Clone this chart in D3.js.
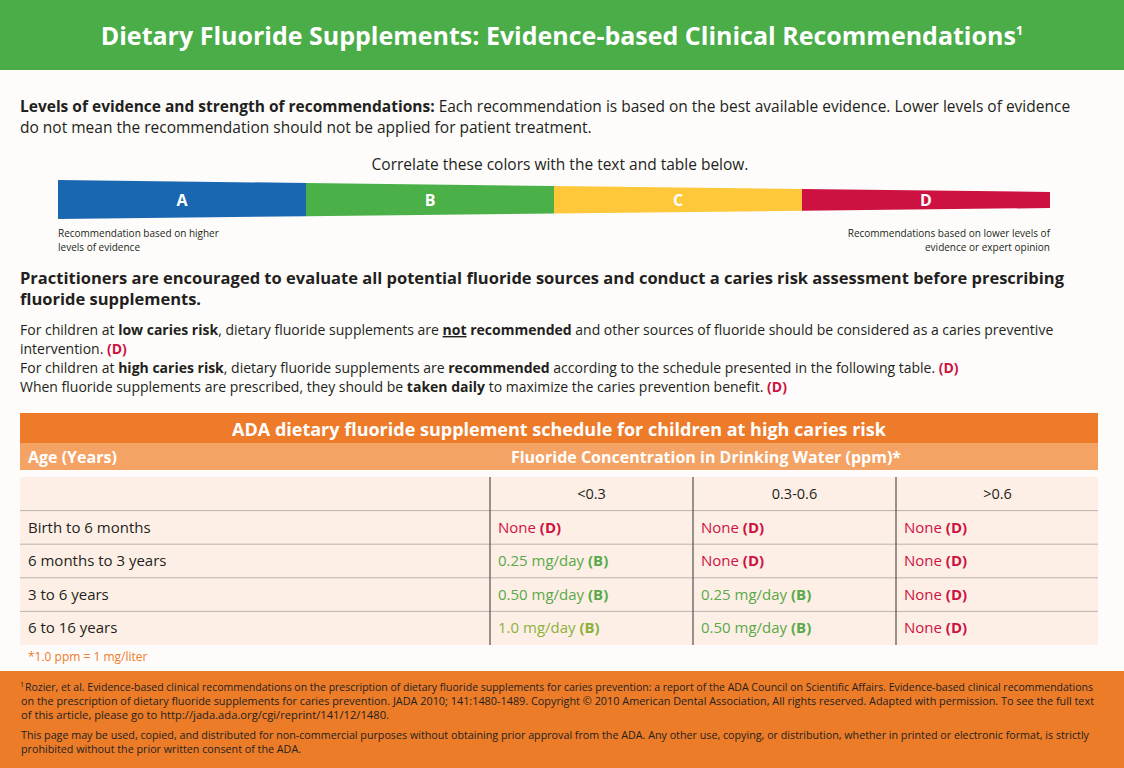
<!DOCTYPE html>
<html><head><meta charset="utf-8">
<script src="https://cdn.jsdelivr.net/npm/d3@7"></script>
<style>
body{margin:0;background:#fdfcfa;}
svg{font-family:"Open Sans",sans-serif;display:block;}
</style></head>
<body><svg width="1124" height="768"></svg>
<script>
const grades = ["A", "B", "C", "D"];
const gradeColors = ["#1a67b1", "#4bb047", "#fec83a", "#cd1141"];
const ages = ["Birth to 6 months", "6 months to 3 years", "3 to 6 years", "6 to 16 years"];
const concentrations = ["<0.3", "0.3-0.6", ">0.6"];
const doses = [
  ["None", "None", "None"],
  ["0.25 mg/day", "None", "None"],
  ["0.50 mg/day", "0.25 mg/day", "None"],
  ["1.0 mg/day", "0.50 mg/day", "None"]
];
const doseGrades = [
  ["D", "D", "D"],
  ["B", "D", "D"],
  ["B", "B", "D"],
  ["B", "B", "D"]
];

const svg = d3.select("svg");
const dark = "#231f20", red = "#cd1141", green = "#5aa94a", orange = "#ee7b2a";

// Header band
svg.append("rect").attr("width", 1124).attr("height", 70).attr("fill", "#4aad48");
const ht = svg.append("text").attr("x", 562).attr("y", 45).attr("text-anchor", "middle")
  .attr("fill", "#fff").style("font-size", "25px").style("font-weight", "bold");
ht.append("tspan").text("Dietary Fluoride Supplements: Evidence-based Clinical Recommendations");
ht.append("tspan").attr("dy", -10).style("font-size", "13px").text("1");

// Rich text helper: parts = [[text, style]]
function rich(x, y, parts, size) {
  const t = svg.append("text").attr("x", x).attr("y", y).attr("fill", dark).style("font-size", size + "px");
  parts.forEach(([s, st]) => {
    const sp = t.append("tspan").text(s);
    if (st && st.includes("b")) sp.style("font-weight", "bold");
    if (st && st.includes("u")) sp.style("text-decoration", "underline");
    if (st && st.includes("r")) sp.attr("fill", red).style("font-weight", "bold");
  });
  return t;
}

rich(20, 112, [["Levels of evidence and strength of recommendations: ", "b"], ["Each recommendation is based on the best available evidence. Lower levels of evidence"]], 15.5);
rich(20, 133, [["do not mean the recommendation should not be applied for patient treatment."]], 15.5);
svg.append("text").attr("x", 560).attr("y", 170).attr("text-anchor", "middle").attr("fill", dark)
  .style("font-size", "15.5px").text("Correlate these colors with the text and table below.");

// Tapered evidence bar
const bx = d3.scaleBand().domain(grades).range([58, 1050]);
const topY = d3.scaleLinear().domain([58, 1050]).range([180, 192]);
const botY = d3.scaleLinear().domain([58, 1050]).range([219, 208]);
grades.forEach((g, i) => {
  const x0 = bx(g), x1 = x0 + bx.bandwidth();
  svg.append("path")
    .attr("d", `M${x0},${topY(x0)}L${x1},${topY(x1)}L${x1},${botY(x1)}L${x0},${botY(x0)}Z`)
    .attr("fill", gradeColors[i]);
  const xm = x0 + bx.bandwidth() / 2;
  svg.append("text").attr("x", xm).attr("y", (topY(xm) + botY(xm)) / 2 + 6).attr("text-anchor", "middle")
    .attr("fill", "#fff").style("font-size", "16px").style("font-weight", "bold").text(g);
});
svg.append("text").attr("x", 58).attr("y", 237).attr("fill", dark).style("font-size", "10px").text("Recommendation based on higher");
svg.append("text").attr("x", 58).attr("y", 251).attr("fill", dark).style("font-size", "10px").text("levels of evidence");
svg.append("text").attr("x", 1050).attr("y", 237).attr("text-anchor", "end").attr("fill", dark).style("font-size", "10px").text("Recommendations  based on lower levels of");
svg.append("text").attr("x", 1050).attr("y", 251).attr("text-anchor", "end").attr("fill", dark).style("font-size", "10px").text("evidence or expert opinion");

rich(20, 284, [["Practitioners are encouraged to evaluate all potential fluoride sources and conduct a caries risk assessment before prescribing", "b"]], 16.5);
rich(20, 305, [["fluoride supplements.", "b"]], 16.5);
rich(20, 335, [["For children at "], ["low caries risk", "b"], [", dietary fluoride supplements are "], ["not", "bu"], [" recommended", "b"], [" and other sources of fluoride should be considered as a caries preventive"]], 14);
rich(20, 354, [["intervention. "], ["(D)", "r"]], 14);
rich(20, 373, [["For children at "], ["high caries risk", "b"], [", dietary fluoride supplements are "], ["recommended", "b"], [" according to the schedule presented in the following table. "], ["(D)", "r"]], 14);
rich(20, 392, [["When fluoride supplements are prescribed, they should be "], ["taken daily", "b"], [" to maximize the caries prevention benefit. "], ["(D)", "r"]], 14);

// Table
const tx0 = 20, tx1 = 1098;
svg.append("rect").attr("x", tx0).attr("y", 413).attr("width", tx1 - tx0).attr("height", 30).attr("fill", orange);
svg.append("text").attr("x", 559).attr("y", 436).attr("text-anchor", "middle").attr("fill", "#fff")
  .style("font-size", "18px").style("font-weight", "bold").text("ADA dietary fluoride supplement schedule for children at high caries risk");
svg.append("rect").attr("x", tx0).attr("y", 443).attr("width", tx1 - tx0).attr("height", 27).attr("fill", "#f4a364");
svg.append("text").attr("x", 28).attr("y", 463).attr("fill", "#fff").style("font-size", "16px").style("font-weight", "bold").text("Age (Years)");
svg.append("text").attr("x", 706).attr("y", 463).attr("text-anchor", "middle").attr("fill", "#fff").style("font-size", "16px").style("font-weight", "bold").text("Fluoride Concentration in Drinking Water (ppm)*");

const cx = d3.scaleBand().domain(concentrations).range([490, 1099]);
const ry = d3.scaleBand().domain(["head"].concat(ages)).range([477, 645]);
svg.append("rect").attr("x", tx0).attr("y", 477).attr("width", tx1 - tx0).attr("height", 168).attr("fill", "#fdefe6");
ry.domain().slice(1).forEach(a => {
  svg.append("line").attr("x1", tx0).attr("x2", tx1).attr("y1", ry(a)).attr("y2", ry(a)).attr("stroke", "#b9b3ae").attr("stroke-width", 1);
});
concentrations.forEach(c => {
  svg.append("line").attr("x1", cx(c)).attr("x2", cx(c)).attr("y1", 477).attr("y2", 645).attr("stroke", "#55504d").attr("stroke-width", 1.2);
  svg.append("text").attr("x", cx(c) + cx.bandwidth() / 2).attr("y", ry("head") + 22).attr("text-anchor", "middle")
    .attr("fill", dark).style("font-size", "14.5px").text(c);
});
ages.forEach((a, i) => {
  const y = ry(a) + 22;
  svg.append("text").attr("x", 28).attr("y", y).attr("fill", dark).style("font-size", "15px").text(a);
  concentrations.forEach((c, j) => {
    const isNone = doses[i][j] === "None";
    const t = svg.append("text").attr("x", cx(c) + 8).attr("y", y).style("font-size", "15px")
      .attr("fill", isNone ? red : (j === 0 && i === 3 ? "#8cb23c" : green));
    t.append("tspan").text(doses[i][j] + " ");
    t.append("tspan").style("font-weight", "bold").text("(" + doseGrades[i][j] + ")");
  });
});
svg.append("text").attr("x", 28).attr("y", 661).attr("fill", orange).style("font-size", "12px").text("*1.0 ppm = 1 mg/liter");

// Footer
svg.append("rect").attr("y", 671).attr("width", 1124).attr("height", 97).attr("fill", "#ed7c28");
const foot = [
  ["Rozier, et al. Evidence-based clinical recommendations on the prescription of dietary fluoride supplements for caries prevention:  a report of the ADA Council on Scientific Affairs. Evidence-based clinical recommendations", 691, 1072],
  ["on the prescription of dietary fluoride supplements for caries prevention. JADA 2010; 141:1480-1489. Copyright © 2010 American Dental Association, All rights reserved. Adapted with permission. To see the full text", 705, 1073],
  ["of this article, please go to http://jada.ada.org/cgi/reprint/141/12/1480.", 719, 368],
  ["This page may be used, copied, and distributed for non-commercial  purposes  without  obtaining prior approval  from the ADA.  Any other use, copying, or distribution, whether in printed or electronic format, is strictly", 739, 1068],
  ["prohibited without the  prior written consent of the ADA.", 753, 280]
];
foot.forEach(([s, y, w], i) => {
  const t = svg.append("text").attr("x", i === 0 ? 25 : 21).attr("y", y).attr("fill", dark)
    .style("font-size", "10.5px").attr("textLength", i === 0 ? w - 4 : w).attr("lengthAdjust", "spacingAndGlyphs").text(s);
  if (i === 0) svg.append("text").attr("x", 20).attr("y", y - 4).attr("fill", dark).style("font-size", "7px").text("1");
});
</script></body></html>
